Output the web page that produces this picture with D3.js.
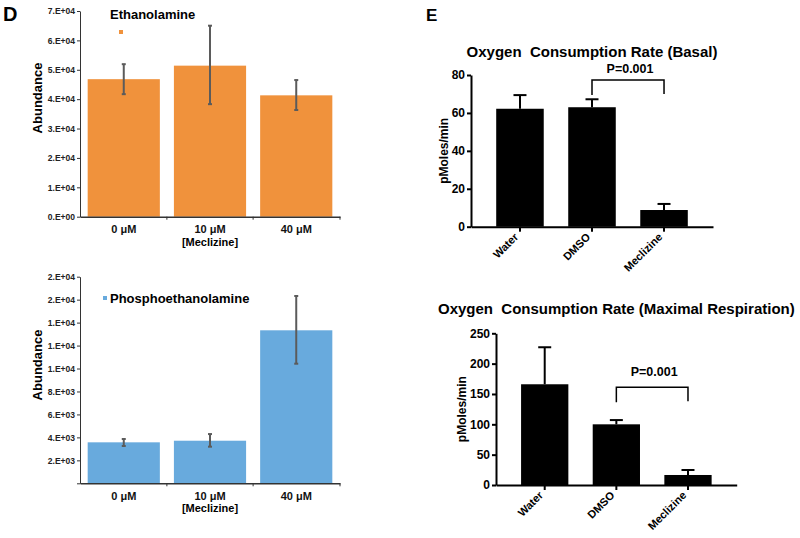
<!DOCTYPE html>
<html>
<head>
<meta charset="utf-8">
<script src="https://cdn.jsdelivr.net/npm/d3@7"></script>
<style>
  body { margin: 0; background: #fff; }
  svg { display: block; font-family: Helvetica, Arial, "Liberation Sans", sans-serif; }
  text { white-space: pre; }
</style>
</head>
<body>
<svg width="800" height="538"></svg>
<script>
const svg = d3.select("svg");

// panel D data
var doses = ["0 μM", "10 μM", "40 μM"];
var ethanolamine = [46800, 51400, 41300];
var ethanolamineLo = [41700, 38300, 36300];
var ethanolamineHi = [51900, 65000, 46500];
var ethTicks = [0, 10000, 20000, 30000, 40000, 50000, 60000, 70000];
var ethTickLabels = ["0.E+00", "1.E+04", "2.E+04", "3.E+04", "4.E+04", "5.E+04", "6.E+04", "7.E+04"];

var phospho = [3570, 3710, 13330];
var phosphoLo = [3250, 3190, 10420];
var phosphoHi = [3860, 4290, 16320];
var phosTicks = [0, 2000, 4000, 6000, 8000, 10000, 12000, 14000, 16000, 18000];
var phosTickLabels = ["", "2.E+03", "4.E+03", "6.E+03", "8.E+03", "1.E+04", "1.E+04", "1.E+04", "2.E+04", "2.E+04"];

// panel E data
var treatments = ["Water", "DMSO", "Meclizine"];
var basal = [62.2, 63.0, 8.8];
var basalHi = [69.4, 67.2, 12.0];
var basalTicks = [0, 20, 40, 60, 80];
var maximal = [166, 100, 16.5];
var maximalHi = [227, 107, 24.7];
var maximalTicks = [0, 50, 100, 150, 200, 250];

// panel letters
svg.append("text").attr("x", 3).attr("y", 21).attr("font-size", 20).attr("font-weight", "bold").text("D");
svg.append("text").attr("x", 426).attr("y", 21).attr("font-size", 17).attr("font-weight", "bold").text("E");

//---- left: Excel style bars with error bars
function abundanceChart(o) {
    var g = svg.append("g");
    var y = d3.scaleLinear().domain([0, o.max]).range([o.y0, o.y1]);
    var x = d3.scaleBand().domain(doses).range([80, 340]).paddingInner(0.163).paddingOuter(0.089);

    g.selectAll("rect.bar").data(o.values).enter().append("rect")
        .attr("x", function(d, i) { return x(doses[i]); })
        .attr("width", x.bandwidth())
        .attr("y", function(d) { return y(d); })
        .attr("height", function(d) { return y(0) - y(d); })
        .attr("fill", o.color);

    // error bars
    var eb = g.selectAll("g.err").data(o.values).enter().append("g")
        .attr("stroke", "#5b5b5b").attr("stroke-width", 2);
    eb.append("line")
        .attr("x1", function(d, i) { return x(doses[i]) + x.bandwidth() / 2; })
        .attr("x2", function(d, i) { return x(doses[i]) + x.bandwidth() / 2; })
        .attr("y1", function(d, i) { return y(o.lo[i]); })
        .attr("y2", function(d, i) { return y(o.hi[i]); });
    [o.lo, o.hi].forEach(function(arr) {
        eb.append("line")
            .attr("x1", function(d, i) { return x(doses[i]) + x.bandwidth() / 2 - 2; })
            .attr("x2", function(d, i) { return x(doses[i]) + x.bandwidth() / 2 + 2; })
            .attr("y1", function(d, i) { return y(arr[i]); })
            .attr("y2", function(d, i) { return y(arr[i]); });
    });

    var ya = g.append("g").attr("transform", "translate(80,0)")
        .call(d3.axisLeft(y).tickValues(o.ticks).tickFormat(function(d, i) { return o.labels[i]; })
            .tickSize(3).tickSizeOuter(0).tickPadding(2));
    ya.selectAll("text").attr("font-size", 8.5).attr("font-weight", "bold").attr("fill", "#222");
    ya.selectAll("line,path").attr("stroke", "#333");

    var xa = g.append("g").attr("transform", "translate(0," + o.y0 + ")")
        .call(d3.axisBottom(x).tickSize(0).tickSizeOuter(0).tickPadding(9));
    xa.selectAll("text").attr("font-size", 11).attr("font-weight", "bold").attr("fill", "#111");
    xa.select("path").attr("stroke", "#333").attr("stroke-width", 1.5);
    // small ticks between categories
    xa.selectAll("line.sep").data([1, 2, 3]).enter().append("line")
        .attr("x1", function(d) { return d < 3 ? x(doses[d]) - x.step() * 0.0815 : 340; })
        .attr("x2", function(d) { return d < 3 ? x(doses[d]) - x.step() * 0.0815 : 340; })
        .attr("y1", 0).attr("y2", 3).attr("stroke", "#333");

    g.append("text").attr("x", x(doses[1]) + x.bandwidth() / 2).attr("y", o.y0 + 29)
        .attr("text-anchor", "middle").attr("font-size", 11).attr("font-weight", "bold").text("[Meclizine]");

    g.append("text").attr("transform", "translate(42," + o.labelY + ") rotate(-90)")
        .attr("text-anchor", "middle").attr("font-size", 13).attr("font-weight", "bold").text("Abundance");

    g.append("text").attr("x", 110).attr("y", o.titleY).attr("font-size", 13).attr("font-weight", "bold").text(o.title);
    g.append("rect").attr("x", o.markX).attr("y", o.markY).attr("width", 4).attr("height", 4).attr("fill", o.color);
}

abundanceChart({
    values: ethanolamine, lo: ethanolamineLo, hi: ethanolamineHi,
    ticks: ethTicks, labels: ethTickLabels, max: 70000,
    y0: 216.7, y1: 11, color: "#f0923c", title: "Ethanolamine",
    titleY: 19, labelY: 98, markX: 119, markY: 30
});
abundanceChart({
    values: phospho, lo: phosphoLo, hi: phosphoHi,
    ticks: phosTicks, labels: phosTickLabels, max: 18000,
    y0: 483.3, y1: 276.7, color: "#68aadd", title: "Phosphoethanolamine",
    titleY: 303, labelY: 365, markX: 103, markY: 296
});

//---- right: Prism style black bars
function ocrChart(o) {
    var g = svg.append("g");
    var y = d3.scaleLinear().domain([0, o.max]).range([o.y0, o.y1]);
    var x = d3.scaleBand().domain(treatments).range([o.x0, o.x1]).paddingInner(0.34).paddingOuter(0.35);
    var cx = function(i) { return x(treatments[i]) + x.bandwidth() / 2; };

    g.selectAll("rect.bar").data(o.values).enter().append("rect")
        .attr("x", function(d, i) { return x(treatments[i]); })
        .attr("width", x.bandwidth())
        .attr("y", function(d) { return y(d); })
        .attr("height", function(d) { return y(0) - y(d); })
        .attr("fill", "#000");

    var eb = g.selectAll("g.err").data(o.values).enter().append("g")
        .attr("stroke", "#000").attr("stroke-width", 2);
    eb.append("line")
        .attr("x1", function(d, i) { return cx(i); }).attr("x2", function(d, i) { return cx(i); })
        .attr("y1", function(d) { return y(d); })
        .attr("y2", function(d, i) { return y(o.hi[i]); });
    eb.append("line")
        .attr("x1", function(d, i) { return cx(i) - 6.5; }).attr("x2", function(d, i) { return cx(i) + 6.5; })
        .attr("y1", function(d, i) { return y(o.hi[i]); })
        .attr("y2", function(d, i) { return y(o.hi[i]); });

    var ya = g.append("g").attr("transform", "translate(" + o.x0 + ",0)")
        .call(d3.axisLeft(y).tickValues(o.ticks).tickSize(4).tickSizeOuter(0).tickPadding(2));
    ya.selectAll("text").attr("font-size", 12).attr("font-weight", "bold").attr("fill", "#000");
    ya.selectAll("line,path").attr("stroke", "#000").attr("stroke-width", 2);

    var xa = g.append("g").attr("transform", "translate(0," + o.y0 + ")")
        .call(d3.axisBottom(x).tickSize(5).tickSizeOuter(0));
    xa.selectAll("line,path").attr("stroke", "#000").attr("stroke-width", 2);
    xa.selectAll("text")
        .attr("font-size", 11).attr("font-weight", "bold").attr("fill", "#000")
        .attr("text-anchor", "end").attr("dy", null)
        .attr("transform", "translate(-1,11) rotate(-45)")
        .attr("y", 0).attr("x", 0);

    g.append("text").attr("x", (o.x0 + o.x1) / 2).attr("y", o.titleY)
        .attr("text-anchor", "middle").attr("font-size", 15).attr("font-weight", "bold").text(o.title);
    g.append("text").attr("transform", "translate(" + o.labelX + "," + ((o.y0 + o.y1) / 2) + ") rotate(-90)")
        .attr("text-anchor", "middle").attr("font-size", 12).attr("font-weight", "bold").text("pMoles/min");

    // significance bracket DMSO vs Meclizine
    var b = g.append("g").attr("stroke", "#000").attr("stroke-width", 1.5).attr("fill", "none");
    b.append("path").attr("d", "M" + cx(1) + "," + (o.bracketY + 15) + "V" + o.bracketY + "H" + cx(2) + "V" + (o.bracketY + 14));
    g.append("text").attr("x", (cx(1) + cx(2)) / 2 + 2).attr("y", o.pY)
        .attr("text-anchor", "middle").attr("font-size", 12.5).attr("font-weight", "bold").text("P=0.001");
}

ocrChart({
    values: basal, hi: basalHi, ticks: basalTicks, max: 80,
    x0: 471, x1: 713, y0: 226.7, y1: 75, labelX: 448,
    title: "Oxygen  Consumption Rate (Basal)", titleY: 57, bracketY: 80, pY: 73
});
ocrChart({
    values: maximal, hi: maximalHi, ticks: maximalTicks, max: 250,
    x0: 496, x1: 736.7, y0: 485, y1: 333.3, labelX: 466,
    title: "Oxygen  Consumption Rate (Maximal Respiration)", titleY: 313.5, bracketY: 387.3, pY: 376
});
</script>
</body>
</html>
